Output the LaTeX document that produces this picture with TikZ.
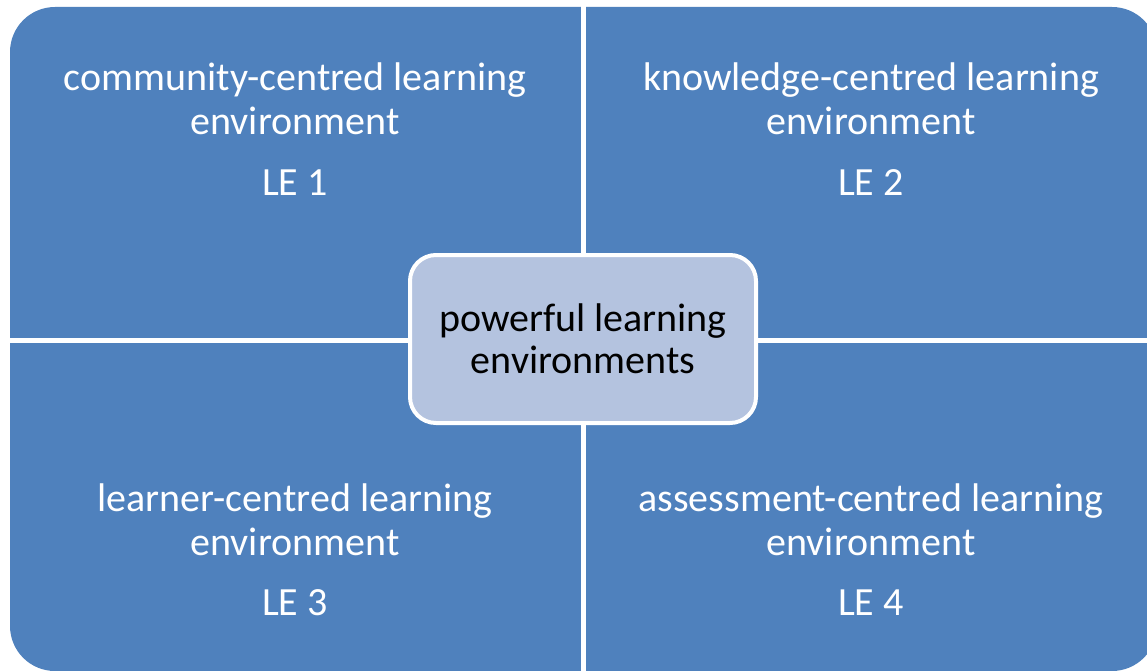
\documentclass[tikz,border=0pt]{standalone}
\usepackage{fontspec}
\setmainfont{Carlito}
\definecolor{quadblue}{HTML}{4F81BD}
\definecolor{hubfill}{HTML}{B4C3DF}
\begin{document}
\begin{tikzpicture}[x=1pt,y=-1pt,
  quadtext/.style={text=white,font=\fontsize{40}{44}\selectfont,align=center,inner sep=0pt,anchor=base},
  hubtext/.style={text=black,font=\fontsize{40}{42}\selectfont,align=center,inner sep=0pt,anchor=base},
  hub/.style={draw=white,line width=4pt,fill=hubfill,rounded corners=26pt,minimum width=346pt,minimum height=168pt,inner sep=0pt}]
\useasboundingbox (0,0) rectangle (1147,671);
% four quadrants as one rounded panel split by white gaps
\fill[quadblue,rounded corners=45pt] (10,7) rectangle (1157,671);
\draw[white,line width=5pt] (583,0) -- (583,671);
\draw[white,line width=5pt] (0,340) -- (1147,340);
% quadrant labels
\node[quadtext] (t1a) at (295,91) {community-centred learning};
\node[quadtext] (t1b) at (295,135) {environment};
\node[quadtext] (l1) at (295,195) {LE 1};
\node[quadtext] (t2a) at (871,91) {knowledge-centred learning};
\node[quadtext] (t2b) at (871,135) {environment};
\node[quadtext] (l2) at (871,195) {LE 2};
\node[quadtext] (t3a) at (295,511) {learner-centred learning};
\node[quadtext] (t3b) at (295,555) {environment};
\node[quadtext] (l3) at (295,615) {LE 3};
\node[quadtext] (t4a) at (871,511) {assessment-centred learning};
\node[quadtext] (t4b) at (871,555) {environment};
\node[quadtext] (l4) at (871,615) {LE 4};
% central hub
\node[hub] (hub) at (583,339) {};
\node[hubtext] (h1) at (583,331) {powerful learning};
\node[hubtext] (h2) at (583,373) {environments};
\end{tikzpicture}
\end{document}
